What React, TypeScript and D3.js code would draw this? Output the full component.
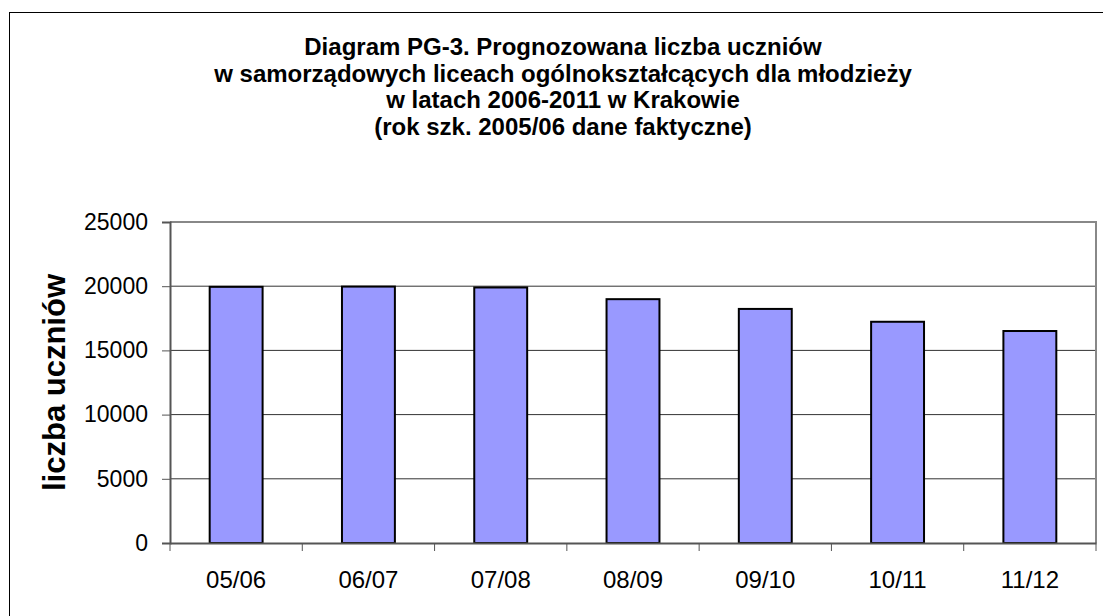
import React, { useRef, useEffect } from "react";
import { select, scaleBand, scaleLinear, axisLeft, axisBottom } from "d3";

const categories = ["05/06", "06/07", "07/08", "08/09", "09/10", "10/11", "11/12"];
const students = [19950, 19970, 19900, 18990, 18230, 17230, 16510];
const yTicks = [0, 5000, 10000, 15000, 20000, 25000];
const titleLines = [
  "Diagram PG-3. Prognozowana liczba uczniów",
  "w samorządowych liceach ogólnokształcących dla młodzieży",
  "w latach 2006-2011 w Krakowie",
  "(rok szk. 2005/06 dane faktyczne)",
];
const yTitle = "liczba uczniów";

const W = 1103;
const H = 616;
const plot = { left: 170, top: 222, right: 1096, bottom: 543 };
const font = "Arial, 'Liberation Sans', sans-serif";

export default function App() {
  const svgRef = useRef<SVGSVGElement>(null);

  useEffect(() => {
    const svg = select(svgRef.current);
    svg.selectAll("*").remove();

    // outer chart frame
    svg.append("rect")
      .attr("x", 9.5).attr("y", 12.5)
      .attr("width", W + 20).attr("height", H + 20)
      .attr("fill", "white").attr("stroke", "black").attr("stroke-width", 1);

    // title
    svg.append("g").selectAll("text")
      .data(titleLines)
      .join("text")
      .attr("x", 563)
      .attr("y", (d, i) => 55 + i * 26.7)
      .attr("text-anchor", "middle")
      .attr("font-family", font)
      .attr("font-weight", "bold")
      .attr("font-size", 24)
      .attr("fill", "black")
      .text(d => d);

    const xScale = scaleBand<string>()
      .domain(categories)
      .range([plot.left, plot.right])
      .paddingInner(0.6)
      .paddingOuter(0.3);

    const yScale = scaleLinear()
      .domain([0, 25000])
      .range([plot.bottom, plot.top]);

    // gridlines
    svg.append("g").selectAll("line")
      .data(yTicks.filter(t => t > 0 && t < 25000))
      .join("line")
      .attr("x1", plot.left).attr("x2", plot.right)
      .attr("y1", d => yScale(d)).attr("y2", d => yScale(d))
      .attr("stroke", "#333").attr("stroke-width", 1);

    // plot border (top and right)
    svg.append("path")
      .attr("d", `M${plot.left},${plot.top}H${plot.right}V${plot.bottom}`)
      .attr("fill", "none").attr("stroke", "#888").attr("stroke-width", 2);

    // bars
    svg.append("g").selectAll("rect")
      .data(students)
      .join("rect")
      .attr("x", (d, i) => xScale(categories[i])!)
      .attr("y", d => yScale(d))
      .attr("width", xScale.bandwidth())
      .attr("height", d => plot.bottom - yScale(d))
      .attr("fill", "#9999FF")
      .attr("stroke", "black")
      .attr("stroke-width", 2);

    // y axis
    const yAxis = axisLeft(yScale).tickValues(yTicks).tickSize(8).tickPadding(14).tickFormat(d => String(d));
    const gy = svg.append("g").attr("transform", `translate(${plot.left},0)`).call(yAxis);
    gy.select(".domain").attr("stroke", "#555").attr("stroke-width", 2);
    gy.selectAll(".tick line").attr("stroke", "#555").attr("stroke-width", 1);
    gy.selectAll(".tick text")
      .attr("font-family", font).attr("font-size", 23).attr("fill", "black");

    // x axis with ticks at category boundaries
    const xAxis = axisBottom(xScale).tickSize(0).tickPadding(28);
    const gx = svg.append("g").attr("transform", `translate(0,${plot.bottom})`).call(xAxis);
    gx.select(".domain").attr("stroke", "#555").attr("stroke-width", 2);
    gx.selectAll(".tick text")
      .attr("font-family", font).attr("font-size", 24).attr("fill", "black");
    const step = xScale.step();
    gx.append("g").selectAll("line")
      .data(categories.map((c, i) => i).concat([categories.length]))
      .join("line")
      .attr("x1", i => plot.left + i * step).attr("x2", i => plot.left + i * step)
      .attr("y1", 0).attr("y2", 8)
      .attr("stroke", "#555").attr("stroke-width", 1);

    // y axis title
    svg.append("text")
      .attr("transform", `translate(65,${(plot.top + plot.bottom) / 2}) rotate(-90)`)
      .attr("text-anchor", "middle")
      .attr("font-family", font)
      .attr("font-weight", "bold")
      .attr("font-size", 31)
      .attr("fill", "black")
      .text(yTitle);
  }, []);

  return (
    <svg ref={svgRef} width={W} height={H}
      style={{ position: "absolute", left: 0, top: 0, background: "white" }} />
  );
}
